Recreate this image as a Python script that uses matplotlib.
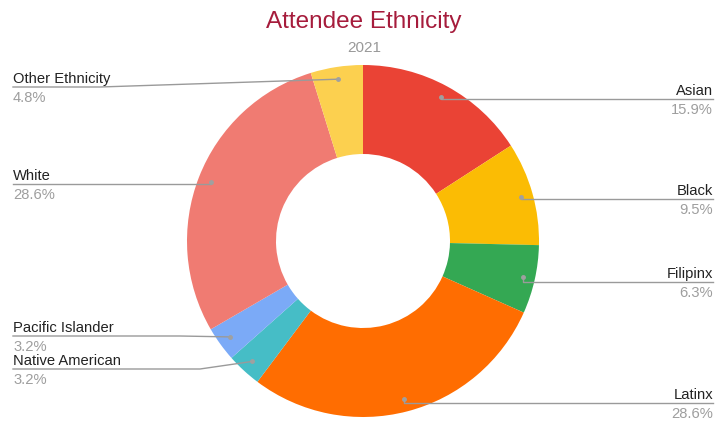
import numpy as np
import matplotlib
matplotlib.use("Agg")
import matplotlib.pyplot as plt

plt.rcParams['font.family'] = ['Liberation Sans', 'DejaVu Sans']

# data
labels = ['Asian', 'Black', 'Filipinx', 'Latinx', 'Native American',
          'Pacific Islander', 'White', 'Other Ethnicity']
values = [15.9, 9.5, 6.3, 28.6, 3.2, 3.2, 28.6, 4.8]
colors = ['#ea4335', '#fbbc04', '#34a853', '#ff6d01', '#46bdc6',
          '#7baaf7', '#f07b72', '#fcd04f']

W, H = 728, 422
cx, cy = 363, H - 241
R = 176

fig = plt.figure(figsize=(7.28, 4.22), dpi=100)
ax = fig.add_axes([0, 0, 1, 1])
ax.pie(values, colors=colors, startangle=90, counterclock=False,
       center=(cx, cy), radius=R,
       wedgeprops=dict(width=89, edgecolor='none', linewidth=0))
ax.set_xlim(0, W)
ax.set_ylim(0, H)
ax.set_aspect('equal')
ax.axis('off')

# label layout: side, line y (px from top), knee x
layout = {
    'Asian': ('r', 99, None),
    'Black': ('r', 199, None),
    'Filipinx': ('r', 282, None),
    'Latinx': ('r', 403, None),
    'Native American': ('l', 369, 200),
    'Pacific Islander': ('l', 336, 180),
    'White': ('l', 184, None),
    'Other Ethnicity': ('l', 87, 100),
}

total = sum(values)
cum = 0
for lab, v in zip(labels, values):
    mid = (cum + v / 2) / total
    cum += v
    ang = np.deg2rad(90 - 360 * mid)
    dx = cx + 0.93 * R * np.cos(ang)
    dy = cy + 0.93 * R * np.sin(ang)
    side, ly, knee = layout[lab]
    ly = H - ly
    if side == 'r':
        ex, ha = 713, 'right'
    else:
        ex, ha = 13, 'left'
    kx = dx if knee is None else knee
    ax.plot([dx, kx, ex], [dy, ly, ly], color='#9a9a9a', lw=1, zorder=3)
    ax.plot(dx, dy, 'o', color='#a0a0a0', ms=2.5, zorder=4)
    ax.text(ex, ly + 4, lab, ha=ha, va='baseline', fontsize=10.6, color='#222222')
    ax.text(ex, ly - 15, '%.1f%%' % v, ha=ha, va='baseline', fontsize=10.6,
            color='#9e9e9e')

ax.text(W / 2, H - 28, 'Attendee Ethnicity', ha='center', va='baseline',
        fontsize=17.5, color='#a61c3c')
ax.text(W / 2, H - 52, '2021', ha='center', va='baseline',
        fontsize=11, color='#999999')

fig.savefig('out.png', dpi=100)
